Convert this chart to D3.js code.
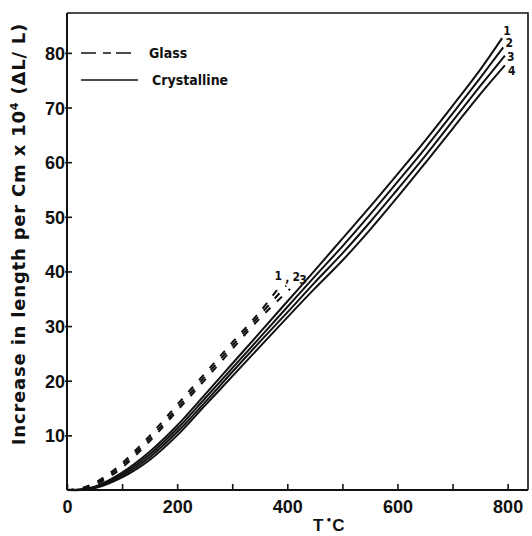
<!DOCTYPE html>
<html>
<head>
<meta charset="utf-8">
<script src="https://cdn.jsdelivr.net/npm/d3@7"></script>
<style>
	body{margin:0;background:#fff;}
	#chart{width:532px;height:536px;}
	.tick-label{font-family:"Liberation Sans",sans-serif;font-weight:bold;font-size:18px;fill:#111;}
	.small-label{font-family:"DejaVu Sans Condensed","DejaVu Sans",sans-serif;font-weight:bold;font-size:12px;fill:#111;}
	.legend-label{font-family:"DejaVu Sans Condensed","DejaVu Sans",sans-serif;font-weight:bold;font-size:14px;fill:#111;}
</style>
</head>
<body>
<div id="chart"></div>
<script>
// temperatures (deg C)
var crystTemps = [0, 25, 50, 100, 150, 200, 250, 300, 350, 400, 450, 500, 550, 600, 650, 700, 750];
var crystEndTemps = [790, 792, 795, 795];
var cryst1 = [0, 0.1, 0.6, 3.2, 7.0, 11.8, 17.4, 23.1, 28.8, 34.5, 40.2, 46.0, 51.8, 57.8, 63.9, 70.3, 76.9, 82.7];
var cryst2 = [0, 0.1, 0.5, 2.9, 6.5, 11.2, 16.7, 22.3, 27.9, 33.5, 39.1, 44.6, 50.4, 56.4, 62.5, 68.9, 75.4, 81.0];
var cryst3 = [0, 0.05, 0.4, 2.6, 6.0, 10.6, 16.0, 21.6, 27.1, 32.5, 38.0, 43.3, 49.0, 55.0, 61.1, 67.5, 73.9, 79.5];
var cryst4 = [0, 0, 0.3, 2.3, 5.5, 10.0, 15.4, 20.8, 26.2, 31.6, 36.9, 42.0, 47.6, 53.6, 59.8, 66.1, 72.4, 77.7];

var glassTemps = [0, 25, 50, 75, 100, 150, 200, 250, 300, 350];
var glassEndTemps = [391, 398, 405];
var glass1 = [0, 0.3, 1.3, 2.9, 4.9, 9.9, 15.6, 21.3, 27.0, 32.6, 37.9];
var glass2 = [0, 0.2, 1.1, 2.6, 4.5, 9.4, 15.0, 20.7, 26.4, 32.0, 37.4];
var glass3 = [0, 0.2, 0.9, 2.3, 4.1, 8.9, 14.5, 20.1, 25.8, 31.4, 36.8];

var crystNames = ["1", "2", "3", "4"];
var glassNames = ["1", "2", "3"];
var xTicks = [0, 100, 200, 300, 400, 500, 600, 700, 800];
var xTickLabels = ["0", "", "200", "", "400", "", "600", "", "800"];
var yTicks = [10, 20, 30, 40, 50, 60, 70, 80];

function toPoints(temps, endT, vals){
	var pts = [];
	var all = temps.concat([endT]);
	for(var i = 0; i < vals.length; i++){
		pts.push({t: all[i], v: vals[i]});
	}
	return pts;
}

function drawChart(){
	var w = 532, h = 536;
	var pLeft = 67, pRight = 528, pTop = 13, pBottom = 490;

	var svg = d3.select("#chart").append("svg")
		.attr("width", w)
		.attr("height", h);

	var xScale = d3.scaleLinear().domain([0, 837]).range([pLeft, pRight]);
	var yScale = d3.scaleLinear().domain([0, 87.3]).range([pBottom, pTop]);

	var line = d3.line()
		.x(function(d){ return xScale(d.t); })
		.y(function(d){ return yScale(d.v); })
		.curve(d3.curveCatmullRom.alpha(0.5));

	// frame
	svg.append("path")
		.attr("d", "M" + pLeft + "," + pTop + "H" + pRight + "V" + pBottom)
		.attr("fill", "none")
		.attr("stroke", "#111")
		.attr("stroke-width", 1.6);

	// x axis, ticks inward
	var xAxis = svg.append("g")
		.attr("transform", "translate(0," + pBottom + ")")
		.call(d3.axisBottom(xScale).tickValues(xTicks).tickSize(-6)
			.tickFormat(function(d, i){ return xTickLabels[i]; }));
	xAxis.select(".domain").attr("stroke", "#111").attr("stroke-width", 2)
		.attr("d", "M" + pLeft + ",0H" + pRight);
	xAxis.selectAll(".tick line").attr("stroke", "#111").attr("stroke-width", 1.6);
	xAxis.selectAll(".tick text").attr("class", "tick-label").attr("y", 23).attr("dy", null);

	// y axis
	var yAxis = svg.append("g")
		.attr("transform", "translate(" + pLeft + ",0)")
		.call(d3.axisLeft(yScale).tickValues(yTicks).tickSize(-5).tickPadding(3));
	yAxis.select(".domain").attr("stroke", "#111").attr("stroke-width", 2)
		.attr("d", "M0," + pTop + "V" + pBottom);
	yAxis.selectAll(".tick line").attr("stroke", "#111").attr("stroke-width", 1.6).attr("x1", -2);
	yAxis.selectAll(".tick text").attr("class", "tick-label").attr("x", -2).attr("dy", "0.36em");

	// axis titles
	var tLabel = svg.append("text").attr("x", 313).attr("y", 531)
		.style("font-family", "'Liberation Sans',sans-serif").style("font-weight", "bold")
		.style("font-size", "17px").attr("fill", "#111");
	tLabel.append("tspan").text("T");
	tLabel.append("tspan").attr("dx", 3).attr("dy", -9).style("font-size", "8px").text("\u25CF");
	tLabel.append("tspan").attr("dx", 1).attr("dy", 9).text("C");

	var yTitle = svg.append("text")
		.attr("transform", "translate(25,234) rotate(-90)")
		.style("text-anchor", "middle")
		.style("font-family", "'DejaVu Sans',sans-serif")
		.style("font-weight", "bold")
		.style("font-size", "18px")
		.style("letter-spacing", "0.8px")
		.attr("fill", "#111");
	yTitle.append("tspan").text("Increase in length per Cm x 10");
	yTitle.append("tspan").attr("dy", -7).style("font-size", "11px").text("4");
	yTitle.append("tspan").attr("dy", 7).text(" (\u0394L/ L)");

	// crystalline curves
	var crystSeries = [cryst1, cryst2, cryst3, cryst4];
	var crystNudge = [[5, -3], [6, 0], [6, 5], [7, 10]];
	crystSeries.forEach(function(vals, i){
		var pts = toPoints(crystTemps, crystEndTemps[i], vals);
		svg.append("path")
			.datum(pts)
			.attr("d", line)
			.attr("fill", "none")
			.attr("stroke", "#111")
			.attr("stroke-width", 2);
		var last = pts[pts.length - 1];
		svg.append("text")
			.attr("class", "small-label")
			.attr("x", xScale(last.t) + crystNudge[i][0])
			.attr("y", yScale(last.v) + crystNudge[i][1])
			.style("text-anchor", "middle")
			.text(crystNames[i]);
	});

	// glass curves (dashed)
	var glassSeries = [glass1, glass2, glass3];
	var glassNudge = [[-4, -3], [10, -5], [13, -5]];
	glassSeries.forEach(function(vals, i){
		var pts = toPoints(glassTemps, glassEndTemps[i], vals);
		svg.append("path")
			.datum(pts)
			.attr("d", line)
			.attr("fill", "none")
			.attr("stroke", "#111")
			.attr("stroke-width", 2)
			.attr("stroke-dasharray", "7,9");
		var last = pts[pts.length - 1];
		svg.append("text")
			.attr("class", "small-label")
			.attr("x", xScale(last.t) + glassNudge[i][0])
			.attr("y", yScale(last.v) + glassNudge[i][1])
			.style("text-anchor", "middle")
			.text(glassNames[i]);
		if(i === 0){
			svg.append("text")
				.attr("class", "small-label")
				.attr("x", xScale(last.t) + 3)
				.attr("y", yScale(last.v) - 1)
				.text(",");
		}
	});

	// legend
	var legend = svg.append("g");
	legend.append("line")
		.attr("x1", 81).attr("x2", 138).attr("y1", 53).attr("y2", 53)
		.attr("stroke", "#111").attr("stroke-width", 1.6)
		.attr("stroke-dasharray", "15,7,8,5");
	legend.append("text").attr("class", "legend-label").attr("x", 149).attr("y", 58).text("Glass");
	legend.append("line")
		.attr("x1", 81).attr("x2", 138).attr("y1", 80).attr("y2", 80)
		.attr("stroke", "#111").attr("stroke-width", 1.6);
	legend.append("text").attr("class", "legend-label").attr("x", 152).attr("y", 85).text("Crystalline");
}

drawChart();
</script>
</body>
</html>
